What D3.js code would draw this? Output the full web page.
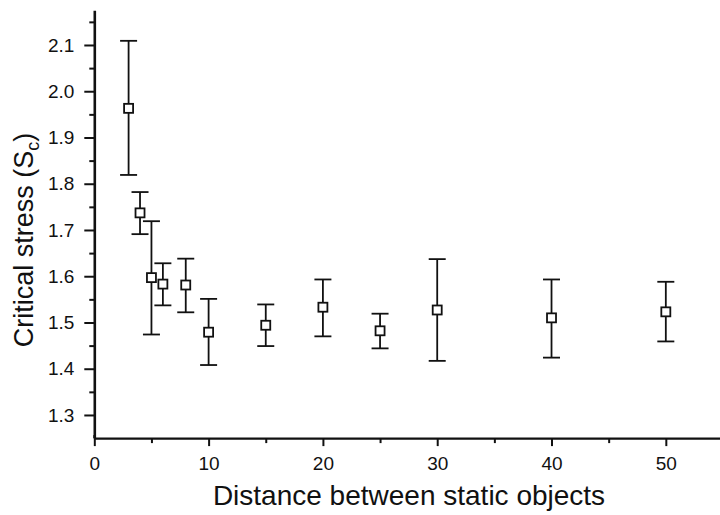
<!DOCTYPE html>
<html>
<head>
<meta charset="utf-8">
<script src="https://cdn.jsdelivr.net/npm/d3@7"></script>
<style>
  body { margin: 0; background: #fff; }
  svg { display: block; }
  text { font-family: "Liberation Sans", Arial, sans-serif; fill: #111; }
  .axis path, .axis line { stroke: #111; }
</style>
</head>
<body>
<div id="chart"></div>
<script>
// values
const distance = [3, 4, 5, 6, 8, 10, 15, 20, 25, 30, 40, 50];
const stress   = [1.963, 1.737, 1.597, 1.583, 1.581, 1.479, 1.494, 1.533, 1.482, 1.527, 1.510, 1.523];
const upper    = [2.109, 1.782, 1.719, 1.628, 1.638, 1.551, 1.539, 1.593, 1.519, 1.637, 1.593, 1.588];
const lower    = [1.819, 1.691, 1.474, 1.537, 1.522, 1.408, 1.449, 1.470, 1.444, 1.417, 1.424, 1.459];
const xTicks = [0, 10, 20, 30, 40, 50];
const xMinor = [5, 15, 25, 35, 45];
const yTicks = [1.3, 1.4, 1.5, 1.6, 1.7, 1.8, 1.9, 2.0, 2.1];
const yMinor = [1.35, 1.45, 1.55, 1.65, 1.75, 1.85, 1.95, 2.05, 2.15];

const width = 720, height = 515;
const capHalf = 8.5, box = 9;

var svg = d3.select("#chart").append("svg")
  .attr("width", width)
  .attr("height", height);

var xScale = d3.scaleLinear()
  .domain([0, 54.74])
  .range([94.3, 720]);

var yScale = d3.scaleLinear()
  .domain([1.25, 2.175])
  .range([438.1, 10.3]);

// x axis
var xAxis = svg.append("g")
  .attr("class", "axis")
  .attr("transform", `translate(0, ${yScale(1.25)})`)
  .call(d3.axisBottom(xScale).tickValues(xTicks).tickSize(8).tickSizeOuter(0).tickPadding(10)
        .tickFormat(d3.format("d")));
xAxis.select(".domain").attr("stroke-width", 2.4);
xAxis.selectAll(".tick line").attr("stroke-width", 2);
xAxis.selectAll(".tick text").attr("font-size", 19);

svg.append("g")
  .attr("class", "axis")
  .attr("transform", `translate(0, ${yScale(1.25)})`)
  .call(d3.axisBottom(xScale).tickValues(xMinor).tickSize(5).tickFormat(""))
  .call(g => g.select(".domain").remove())
  .selectAll(".tick line").attr("stroke-width", 2);

// y axis
var yAxis = svg.append("g")
  .attr("class", "axis")
  .attr("transform", `translate(${xScale(0)}, 0)`)
  .call(d3.axisLeft(yScale).tickValues(yTicks).tickSize(10).tickSizeOuter(0).tickPadding(10)
        .tickFormat(d3.format(".1f")));
yAxis.select(".domain").attr("stroke-width", 2.6);
yAxis.selectAll(".tick line").attr("stroke-width", 2);
yAxis.selectAll(".tick text").attr("font-size", 19);

svg.append("g")
  .attr("class", "axis")
  .attr("transform", `translate(${xScale(0)}, 0)`)
  .call(d3.axisLeft(yScale).tickValues(yMinor).tickSize(5).tickFormat(""))
  .call(g => g.select(".domain").remove())
  .selectAll(".tick line").attr("stroke-width", 2);

// small cross at the origin
svg.append("line")
  .attr("x1", xScale(0)).attr("x2", xScale(0))
  .attr("y1", yScale(1.25) - 3).attr("y2", yScale(1.25))
  .attr("stroke", "#111").attr("stroke-width", 2);

// error bars
var pts = distance.map((d, i) => ({x: d, y: stress[i], hi: upper[i], lo: lower[i]}));
var bars = svg.append("g").attr("stroke", "#111").attr("stroke-width", 1.8);

bars.selectAll(".stem").data(pts).join("line")
  .attr("class", "stem")
  .attr("x1", d => xScale(d.x)).attr("x2", d => xScale(d.x))
  .attr("y1", d => yScale(d.hi)).attr("y2", d => yScale(d.lo));

bars.selectAll(".cap-hi").data(pts).join("line")
  .attr("class", "cap-hi")
  .attr("x1", d => xScale(d.x) - capHalf).attr("x2", d => xScale(d.x) + capHalf)
  .attr("y1", d => yScale(d.hi)).attr("y2", d => yScale(d.hi));

bars.selectAll(".cap-lo").data(pts).join("line")
  .attr("class", "cap-lo")
  .attr("x1", d => xScale(d.x) - capHalf).attr("x2", d => xScale(d.x) + capHalf)
  .attr("y1", d => yScale(d.lo)).attr("y2", d => yScale(d.lo));

// square markers
svg.append("g").selectAll("rect").data(pts).join("rect")
  .attr("x", d => xScale(d.x) - box / 2)
  .attr("y", d => yScale(d.y) - box / 2)
  .attr("width", box).attr("height", box)
  .attr("fill", "#fff")
  .attr("stroke", "#111")
  .attr("stroke-width", 1.8);

// axis titles
svg.append("text")
  .attr("x", 409).attr("y", 505)
  .attr("text-anchor", "middle")
  .attr("font-size", 28)
  .text("Distance between static objects");

var yTitle = svg.append("text")
  .attr("transform", "translate(33, 240) rotate(-90)")
  .attr("text-anchor", "middle")
  .attr("font-size", 27);
yTitle.append("tspan").text("Critical stress (S");
yTitle.append("tspan").attr("font-size", 18).attr("dy", 6).text("c");
yTitle.append("tspan").attr("dy", -6).text(")");
</script>
</body>
</html>
